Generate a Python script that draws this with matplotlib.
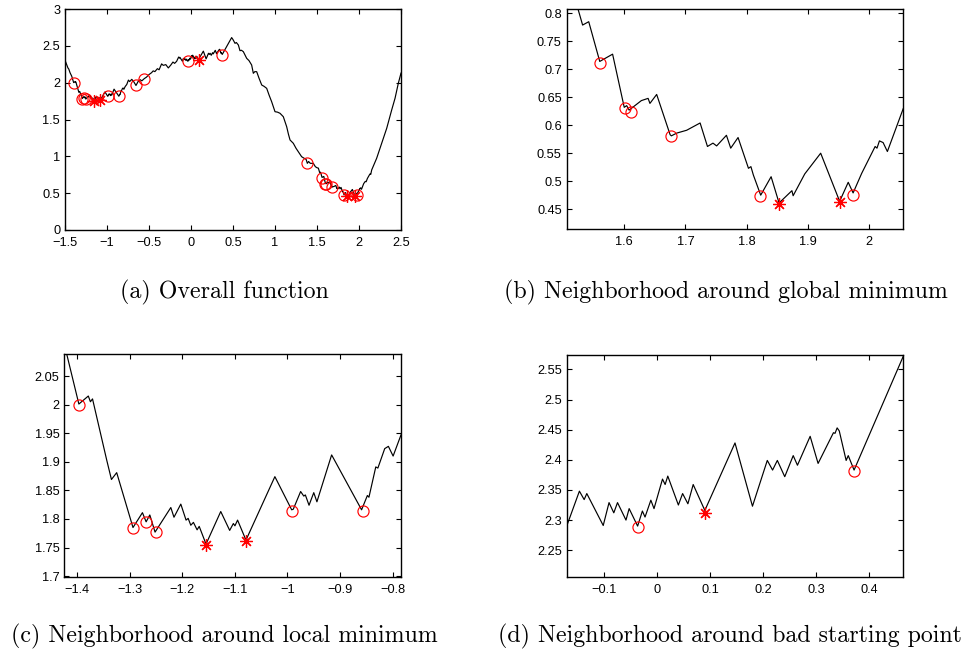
import numpy as np
import matplotlib
matplotlib.use("Agg")
import matplotlib.pyplot as plt
from matplotlib.ticker import FuncFormatter, FixedLocator

# ---------------- data ----------------
# one jagged function, sampled more densely inside the three zoom windows
curve_x = [
    -1.500, -1.480, -1.465, -1.455, -1.440,
    -1.420, -1.397, -1.379, -1.375, -1.371, -1.344, -1.335, -1.325, -1.294, -1.276,
    -1.269, -1.262, -1.252, -1.222, -1.216, -1.203, -1.193, -1.189, -1.184, -1.179,
    -1.172, -1.168, -1.155, -1.127, -1.110, -1.103, -1.100, -1.095, -1.079, -1.024,
    -0.992, -0.989, -0.975, -0.969, -0.966, -0.959, -0.950, -0.944, -0.916, -0.859,
    -0.848, -0.845, -0.832, -0.828, -0.815, -0.808, -0.799, -0.784,
    -0.765, -0.745, -0.730, -0.705, -0.680, -0.655, -0.630, -0.605, -0.585, -0.556,
    -0.530, -0.500, -0.470, -0.450, -0.430, -0.400, -0.380, -0.350, -0.330, -0.300,
    -0.270, -0.240, -0.215, -0.195,
    -0.171, -0.147, -0.138, -0.133, -0.102, -0.091, -0.082, -0.075, -0.059, -0.053,
    -0.037, -0.028, -0.023, -0.012, -0.006, 0.010, 0.015, 0.020, 0.040, 0.048,
    0.058, 0.068, 0.090, 0.147, 0.180, 0.208, 0.218, 0.227, 0.241, 0.257,
    0.265, 0.289, 0.304, 0.333, 0.336, 0.340, 0.344, 0.357, 0.361, 0.372, 0.465,
    0.484, 0.500, 0.524, 0.540, 0.564, 0.583, 0.600, 0.623, 0.663, 0.690,
    0.722, 0.742, 0.760, 0.782, 0.810, 0.842, 0.870, 0.901, 0.930, 0.960,
    1.000, 1.030, 1.060, 1.099, 1.139, 1.160, 1.179, 1.218, 1.250, 1.277,
    1.317, 1.345, 1.370, 1.385, 1.400, 1.420, 1.456, 1.480, 1.500, 1.516,
    1.532, 1.542, 1.560, 1.581, 1.600, 1.604, 1.608, 1.628, 1.639, 1.642,
    1.653, 1.675, 1.677, 1.686, 1.702, 1.724, 1.736, 1.745, 1.751, 1.767,
    1.774, 1.786, 1.803, 1.807, 1.811, 1.823, 1.840, 1.853, 1.874, 1.876,
    1.895, 1.921, 1.952, 1.966, 1.974, 1.988, 2.010, 2.013, 2.017, 2.023,
    2.030, 2.056,
    2.075, 2.085, 2.100, 2.130, 2.140, 2.151, 2.210, 2.270, 2.330, 2.389,
    2.429, 2.468, 2.500,
]
curve_y = [
    2.305, 2.245, 2.200, 2.185, 2.135,
    2.088, 2.001, 2.015, 2.005, 2.010, 1.903, 1.869, 1.881, 1.785, 1.811,
    1.795, 1.807, 1.777, 1.820, 1.803, 1.826, 1.798, 1.801, 1.789, 1.794,
    1.781, 1.787, 1.756, 1.813, 1.780, 1.792, 1.788, 1.798, 1.763, 1.874,
    1.816, 1.817, 1.848, 1.840, 1.842, 1.824, 1.846, 1.830, 1.912, 1.816,
    1.841, 1.838, 1.891, 1.889, 1.923, 1.927, 1.910, 1.947,
    1.975, 2.035, 2.015, 2.045, 2.010, 1.962, 2.015, 2.040, 2.025, 2.055,
    2.075, 2.110, 2.135, 2.160, 2.150, 2.190, 2.175, 2.255, 2.235, 2.245,
    2.200, 2.240, 2.280, 2.262,
    2.290, 2.348, 2.334, 2.344, 2.291, 2.329, 2.312, 2.329, 2.300, 2.319,
    2.290, 2.315, 2.305, 2.333, 2.319, 2.368, 2.359, 2.373, 2.325, 2.344,
    2.327, 2.359, 2.316, 2.428, 2.323, 2.399, 2.383, 2.399, 2.372, 2.407,
    2.391, 2.439, 2.394, 2.445, 2.444, 2.453, 2.448, 2.399, 2.407, 2.383, 2.572,
    2.612, 2.585, 2.534, 2.545, 2.511, 2.434, 2.440, 2.421, 2.330, 2.300,
    2.240, 2.127, 2.150, 2.149, 2.060, 1.968, 1.950, 1.923, 1.830, 1.742,
    1.606, 1.600, 1.584, 1.538, 1.402, 1.300, 1.222, 1.177, 1.110, 1.063,
    0.995, 0.975, 0.960, 0.905, 0.930, 0.905, 0.905, 0.860, 0.845, 0.840,
    0.779, 0.785, 0.714, 0.727, 0.632, 0.635, 0.627, 0.644, 0.648, 0.639,
    0.655, 0.583, 0.581, 0.586, 0.591, 0.604, 0.562, 0.568, 0.563, 0.582,
    0.559, 0.578, 0.523, 0.526, 0.511, 0.475, 0.508, 0.461, 0.483, 0.474,
    0.513, 0.550, 0.464, 0.498, 0.479, 0.514, 0.562, 0.559, 0.572, 0.569,
    0.553, 0.630,
    0.660, 0.655, 0.700, 0.760, 0.755, 0.815, 0.973, 1.177, 1.381, 1.629,
    1.788, 1.991, 2.130,
]

circle_x = [-1.397, -1.294, -1.270, -1.251, -0.992, -0.857, -0.655, -0.556,
            -0.037, 0.372, 1.385, 1.560, 1.601, 1.611, 1.676, 1.822, 1.974]
circle_y = [2.000, 1.785, 1.794, 1.777, 1.814, 1.814, 1.962, 2.055,
            2.289, 2.382, 0.914, 0.712, 0.630, 0.624, 0.580, 0.473, 0.476]

star_x = [-1.155, -1.079, 0.090, 1.853, 1.952]
star_y = [1.754, 1.761, 2.311, 0.460, 0.463]

captions = ["(a) Overall function",
            "(b) Neighborhood around global minimum",
            "(c) Neighborhood around local minimum",
            "(d) Neighborhood around bad starting point"]

xlims = [(-1.5, 2.5), (1.506, 2.056), (-1.4247, -0.784), (-0.171, 0.465)]
ylims = [(0.0, 3.0), (0.414, 0.8077), (1.699, 2.088), (2.206, 2.574)]
xticks = [[-1.5, -1, -0.5, 0, 0.5, 1, 1.5, 2, 2.5],
          [1.6, 1.7, 1.8, 1.9, 2.0],
          [-1.4, -1.3, -1.2, -1.1, -1.0, -0.9, -0.8],
          [-0.1, 0.0, 0.1, 0.2, 0.3, 0.4]]
yticks = [[0, 0.5, 1, 1.5, 2, 2.5, 3],
          [0.45, 0.5, 0.55, 0.6, 0.65, 0.7, 0.75, 0.8],
          [1.7, 1.75, 1.8, 1.85, 1.9, 1.95, 2.0, 2.05],
          [2.25, 2.3, 2.35, 2.4, 2.45, 2.5, 2.55]]

# ---------------- layout ----------------
W, H = 967, 654
fig = plt.figure(figsize=(W / 100, H / 100), dpi=100)

# axes boxes in pixels: left, top, right, bottom
boxes = [(65, 9, 401, 230), (566.7, 9, 903.3, 229.3),
         (64.3, 354.3, 401, 576.7), (566.7, 355, 903.3, 576.7)]
cap_pos = [(224, 292), (726, 292), (224, 636), (730, 636)]

def fmt(v, pos):
    s = "%g" % round(v, 6)
    return s.replace("-", "\u2212")

for i in range(4):
    l, t, r, b = boxes[i]
    ax = fig.add_axes([l / W, 1 - b / H, (r - l) / W, (b - t) / H])
    ax.plot(curve_x, curve_y, color="black", lw=0.85)
    ax.plot(circle_x, circle_y, linestyle="none", marker="o", ms=8,
            mfc="none", mec="red", mew=0.85)
    ax.plot(star_x, star_y, linestyle="none", marker=(8, 2, 0), ms=9,
            mec="red", mew=0.9)
    ax.set_xlim(*xlims[i])
    ax.set_ylim(*ylims[i])
    ax.xaxis.set_major_locator(FixedLocator(xticks[i]))
    ax.yaxis.set_major_locator(FixedLocator(yticks[i]))
    ax.xaxis.set_major_formatter(FuncFormatter(fmt))
    ax.yaxis.set_major_formatter(FuncFormatter(fmt))
    ax.tick_params(direction="in", length=3.5, width=0.8, top=True, right=True,
                   labelsize=9.2)
    ax.tick_params(axis="x", pad=5)
    ax.tick_params(axis="y", pad=3.5)
    for lab in ax.get_xticklabels() + ax.get_yticklabels():
        lab.set_fontfamily("Liberation Sans")
    for sp in ax.spines.values():
        sp.set_linewidth(1.0)
    cx, cy = cap_pos[i]
    fig.text(cx / W, 1 - cy / H, captions[i], ha="center", va="center",
             fontsize=17.2, family="cmr10")

fig.savefig("out.png", dpi=100)
